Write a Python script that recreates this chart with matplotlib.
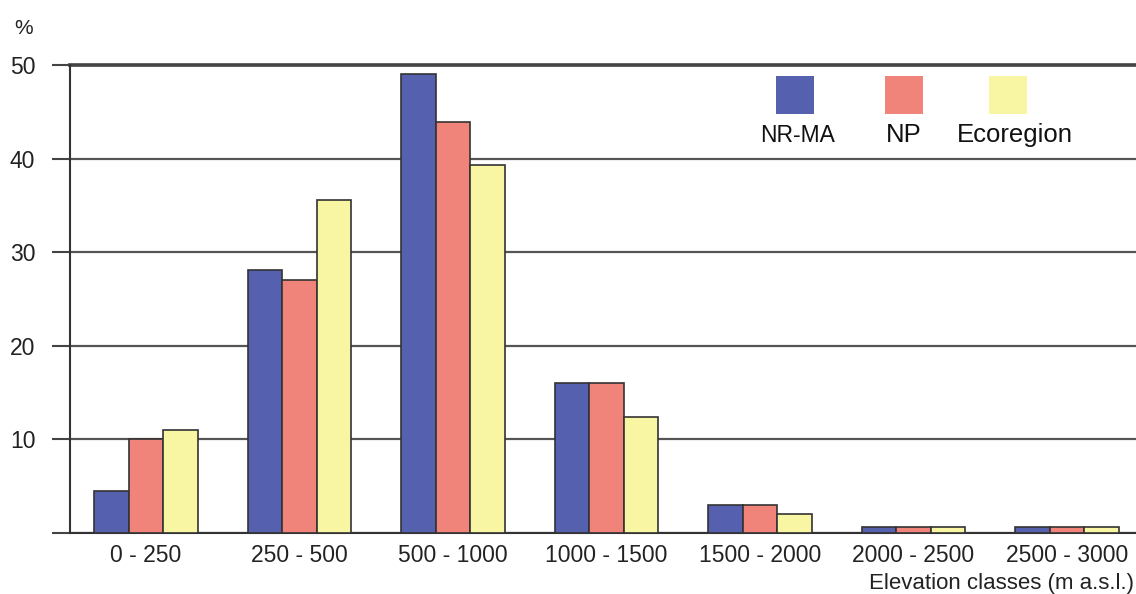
import numpy as np
import matplotlib
matplotlib.use("Agg")
import matplotlib.pyplot as plt
from matplotlib.patches import Rectangle

# data
classes = ['0 - 250', '250 - 500', '500 - 1000', '1000 - 1500',
           '1500 - 2000', '2000 - 2500', '2500 - 3000']
nr_ma = [4.5, 28.1, 49.0, 16.0, 3.0, 0.6, 0.6]
np_vals = [10.0, 27.0, 43.9, 16.0, 3.0, 0.6, 0.6]
ecoregion = [11.0, 35.6, 39.3, 12.4, 2.0, 0.6, 0.6]
series_names = ['NR-MA', 'NP', 'Ecoregion']
colors = ['#5560AE', '#F0837A', '#F8F6A2']

plt.rcParams['font.family'] = ['Liberation Sans', 'DejaVu Sans']

fig = plt.figure(figsize=(11.36, 5.94), dpi=100)
ax = fig.add_axes([70 / 1136, 61 / 594, 1 - 70 / 1136, 468 / 594])

x = np.arange(len(classes))
w = 0.225
for i, (vals, c) in enumerate(zip([nr_ma, np_vals, ecoregion], colors)):
    ax.bar(x + (i - 1) * w, vals, width=w, color=c, edgecolor='#333333',
           linewidth=1.2, zorder=3)

ax.set_xlim(-0.495, 6.45)
ax.set_ylim(0, 50)
ax.set_yticks([0, 10, 20, 30, 40, 50])
ax.set_yticklabels(['', '10', '20', '30', '40', '50'], fontsize=16.5, color='#222222')
ax.tick_params(axis='y', length=13, width=1.5, color='#444444', pad=12)
ax.set_xticks(x)
ax.set_xticklabels(classes, fontsize=16.5, color='#222222')
ax.tick_params(axis='x', length=0, pad=8)

ax.grid(axis='y', color='#555555', linewidth=1.6, zorder=0)
ax.set_axisbelow(True)
ax.axhline(50, color='#444444', linewidth=2.6, zorder=1, clip_on=False)
for s in ['top', 'right']:
    ax.spines[s].set_visible(False)
ax.spines['left'].set_color('#333333')
ax.spines['left'].set_linewidth(1.5)
ax.spines['bottom'].set_color('#333333')
ax.spines['bottom'].set_linewidth(1.5)

fig.text(24 / 1136, 1 - 28 / 594, '%', fontsize=15, color='#222222',
         ha='center', va='center')
fig.text(1134 / 1136, 1 - 583 / 594, 'Elevation classes (m a.s.l.)',
         fontsize=16, color='#222222', ha='right', va='center')

# legend: squares with labels underneath
leg_x = [776, 885, 989]
label_x = [798, 904, 1015]
label_size = [16.5, 18.5, 18.5]
for lx, tx, name, c, fs in zip(leg_x, label_x, series_names, colors, label_size):
    fig.patches.append(Rectangle((lx / 1136, 1 - 114 / 594), 38 / 1136, 38 / 594,
                                 transform=fig.transFigure, facecolor=c,
                                 edgecolor='none', zorder=5))
    fig.text(tx / 1136, 1 - 135 / 594, name, fontsize=fs, color='#111111',
             ha='center', va='center', zorder=6)

fig.savefig('out.png', dpi=100)
